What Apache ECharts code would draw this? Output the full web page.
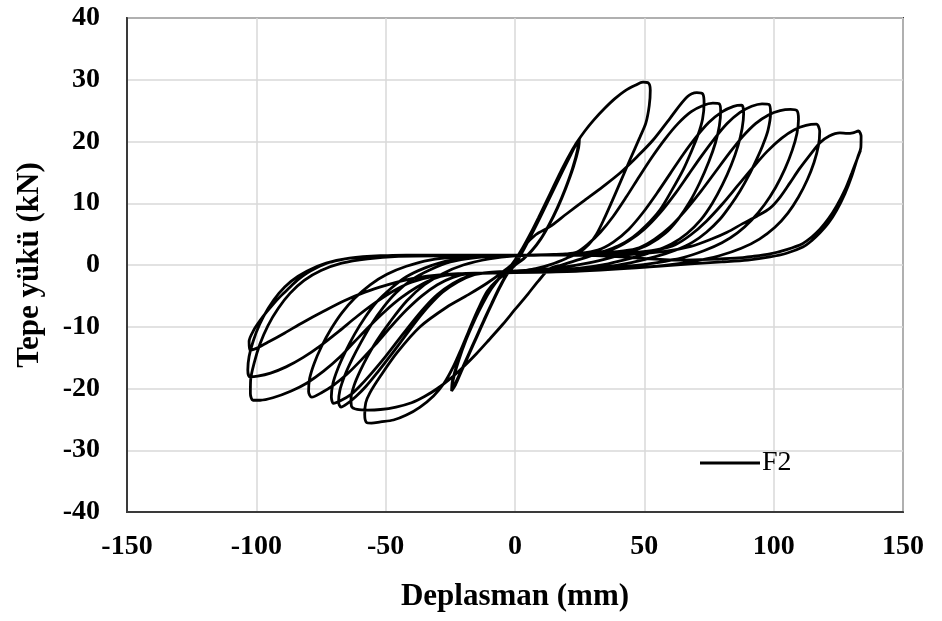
<!DOCTYPE html>
<html>
<head>
<meta charset="utf-8">
<script src="https://cdn.jsdelivr.net/npm/echarts@6/dist/echarts.min.js"></script>
<style>
  html, body { margin: 0; padding: 0; background: #ffffff; }
  #chart { width: 942px; height: 621px; }
</style>
</head>
<body>
<div id="chart"></div>
<script>
// Cyclic load test of specimen F2: top load (kN) vs. displacement (mm).
// Each array is one loading cycle, [displacement, load] pairs in test order.

// Three small elastic cycles at about ±25 mm
const cycleSmall1 = [[0,0],[3,2.2],[6,4.6],[9,7.1],[12,9.7],[15,12.3],[18,14.9],[21,17.4],[23.3,19.3],[24.4,20],[24.2,18.7],[22.2,15.6],[19.3,12.2],[16.2,9.1],[13,6.4],[9.8,4.1],[6.5,2.3],[3.2,1],[0,0],[-3,-1.4],[-6,-3.6],[-9,-6.2],[-12,-8.9],[-15,-11.7],[-18,-14.5],[-21,-17.3],[-23.2,-19.3],[-24.2,-20.1],[-23.9,-18.6],[-21.8,-15.5],[-18.8,-12],[-15.6,-8.9],[-12.4,-6.2],[-9.2,-3.9],[-6,-2.1],[-2.8,-0.8]];
const cycleSmall2 = [[0.5,0.4],[3.5,2.6],[6.5,5],[9.5,7.5],[12.5,10.1],[15.5,12.7],[18.5,15.3],[21.5,17.8],[23.8,19.7],[24.9,20.4],[24.6,19],[22.6,15.9],[19.6,12.4],[16.5,9.3],[13.3,6.6],[10.1,4.3],[6.8,2.5],[3.5,1.1],[0.3,0.1],[-2.7,-1.3],[-5.7,-3.5],[-8.7,-6.1],[-11.7,-8.8],[-14.7,-11.6],[-17.7,-14.4],[-20.7,-17.2],[-23,-19.4],[-24.5,-20.4],[-24.2,-18.8],[-22.1,-15.7],[-19.1,-12.2],[-15.9,-9.1],[-12.7,-6.3],[-9.5,-4],[-6.3,-2.2],[-3.1,-0.9]];
const cycleSmall3 = [[0.2,0.3],[3.2,2.5],[6.2,4.9],[9.2,7.4],[12.2,10],[15.2,12.6],[18.2,15.2],[21.2,17.7],[23.6,19.7],[24.8,20.3],[24.4,18.9],[22.4,15.8],[19.4,12.3],[16.3,9.2],[13.1,6.5],[9.9,4.2],[6.6,2.4],[3.3,1],[0.1,0],[-2.9,-1.4],[-5.9,-3.6],[-8.9,-6.2],[-11.9,-8.9],[-14.9,-11.7],[-17.9,-14.5],[-20.9,-17.3],[-23.1,-19.4],[-24.4,-20.3],[-24,-18.7],[-21.9,-15.6],[-18.9,-12.1],[-15.7,-9],[-12.5,-6.2],[-9.3,-3.9],[-6.1,-2.1],[-2.9,-0.8]];

// Peak load cycle: +52 mm / -57 mm
const cycle4 = [[0,0.8],[3,2.8],[6,5.1],[9,7.6],[12,10.2],[15,12.8],[18,15.4],[21,17.8],[24,19.9],[27,21.7],[30.5,23.5],[34.5,25.3],[38.5,26.9],[42.5,28.2],[46.5,29.1],[49.5,29.6],[51.5,29.5],[52.3,28.3],[51.9,25.8],[50.6,23],[48.3,20.7],[44.4,17],[40.6,13.3],[37.5,10.3],[34.5,7.5],[31.5,5],[28.5,3.3],[25,2.1],[20,1.1],[14,0.1],[8,-0.6],[2,-1],[-3,-1.4],[-7,-2.5],[-10.8,-4.3],[-14.5,-7.4],[-18,-10.8],[-21,-13.8],[-24,-16.6],[-27.5,-19.2],[-31.5,-21.2],[-36.7,-23],[-42,-24.3],[-47,-25.1],[-52,-25.4],[-55.5,-25.6],[-57.4,-25.5],[-58.1,-24.2],[-57.7,-22.3],[-56.1,-20.7],[-52.2,-18.1],[-45.6,-14.2],[-36.7,-10],[-26.3,-6.8],[-18,-4.8],[-11,-3],[-5,-1.2],[0,0.6],[3.1,2.8]];

// +73 mm / -63 mm
const cycle5 = [[8,4.9],[13.5,6.2],[20,8.3],[27,10.5],[34,12.7],[40.6,14.9],[47.1,17.5],[53.3,20.2],[60,23.8],[66.5,27.2],[70.3,27.9],[72.6,27.7],[73.1,26.2],[72.5,23.6],[70.7,21],[68,18.2],[65,15.4],[60.5,12],[56,8.9],[50.5,6.3],[45.6,4.5],[40,3.1],[33,2],[25,0.9],[18,0],[13.5,-0.6],[9,-2.6],[5,-4.7],[0,-7.2],[-4.7,-9.6],[-10,-12.1],[-15,-14.4],[-20,-16.5],[-25,-18.4],[-30,-20],[-35,-21.3],[-40,-22.3],[-46,-23],[-52,-23.4],[-57,-23.5],[-61,-23.4],[-63.2,-22.9],[-63.4,-21.6],[-62.2,-19.5],[-59.9,-17.2],[-57,-14.8],[-53.5,-12.3],[-48.3,-9.2],[-41.8,-5.8],[-35,-3.2],[-28,-1.4],[-20,0],[-10,1],[0,1.5],[10,1.6],[20,1.8]];

// +79 mm / -68 mm
const cycle6 = [[24,2.1],[28,3.3],[33,5.3],[38,7.9],[43,11],[48,14.3],[53,17.5],[58,20.4],[63,22.9],[68,24.8],[72.5,25.8],[76.5,26.2],[78.9,26.1],[79.5,25],[79,22.5],[77.5,19.8],[75,16.8],[71.5,13.4],[67.5,10.2],[63,7.4],[58,5.1],[52,3.4],[45,2.2],[37,1.2],[28,0.3],[18,-0.4],[8,-0.8],[-2,-1],[-10,-1.2],[-16,-1.6],[-22,-2.7],[-28,-4.4],[-33,-6.5],[-38,-9],[-43,-11.8],[-48,-14.6],[-53,-17.3],[-57.5,-19.6],[-61.5,-21.3],[-65,-22.5],[-67.3,-23],[-68.2,-22.2],[-67.7,-20.3],[-65.8,-17.9],[-63,-15.3],[-59.5,-12.5],[-55.5,-9.6],[-51,-6.9],[-46,-4.5],[-40,-2.4],[-33,-0.8],[-25,0.5],[-15,1.2],[-5,1.5],[5,1.6],[15,1.7],[25,1.9]];

// +88 mm / -71 mm
const cycle7 = [[32,2.4],[38,3.7],[44,5.8],[49.5,8.5],[55,11.7],[60,14.8],[65,17.9],[70,20.7],[75,23.1],[80,24.8],[84.5,25.7],[87.6,25.9],[88.4,24.6],[87.8,22.1],[86.2,19.3],[83.6,16.2],[80.2,13],[76.3,10],[71.8,7.3],[66.5,5.1],[60.5,3.4],[53,2.1],[45,1.1],[36,0.2],[25,-0.5],[12,-0.9],[0,-1.1],[-12,-1.3],[-18,-1.8],[-24,-3],[-30,-4.8],[-35,-6.9],[-40,-9.4],[-45,-12.1],[-50,-14.8],[-55,-17.3],[-59.5,-19.4],[-63.5,-21],[-67.5,-22],[-70.2,-22.4],[-71,-21.3],[-70.4,-19.2],[-68.5,-16.8],[-65.5,-14],[-62,-11.2],[-58,-8.5],[-53.5,-6],[-48,-3.8],[-42,-1.9],[-35,-0.5],[-27,0.6],[-17,1.2],[-5,1.5],[8,1.6],[20,1.8],[32,2.1]];

// +98 mm / -79 mm
const cycle8 = [[38,2.6],[44,3.9],[50,5.8],[56,8.4],[62,11.6],[67,14.6],[72,17.6],[77,20.4],[82,22.9],[87,24.7],[91.5,25.7],[95.5,26.1],[98.2,26],[98.8,24.6],[97.8,21.8],[95.8,19.4],[93.5,17.2],[90.5,14.6],[87,12],[83.2,9.6],[79.2,7.4],[74,5.3],[68.7,3.7],[62,2.4],[54,1.3],[45,0.4],[35,-0.3],[22,-0.8],[8,-1.1],[-6,-1.2],[-18,-1.4],[-24,-2],[-30,-3.2],[-36,-5],[-42,-7.3],[-48,-10],[-54,-12.9],[-59.5,-15.4],[-65,-17.7],[-70,-19.4],[-74.5,-20.6],[-78.6,-21.4],[-79.8,-20.5],[-79.4,-18.4],[-77.6,-15.9],[-74.8,-13.2],[-71.3,-10.5],[-67,-7.8],[-62,-5.4],[-56,-3.2],[-49.5,-1.5],[-42,-0.2],[-33,0.8],[-22,1.3],[-10,1.5],[3,1.6],[16,1.7],[30,1.9],[42,2.3]];

// +109 mm / -101 mm
const cycle9 = [[48,2.8],[54,4.2],[60,6.2],[66,8.9],[72,12],[77.5,15.1],[83,18.2],[88,20.8],[93,22.9],[98,24.3],[102.5,25],[106.5,25.2],[109,25],[109.6,23.6],[109,21.3],[107.2,18.6],[104.4,15.6],[100.8,12.6],[96.5,9.8],[91.5,7.3],[86,5.2],[80,3.6],[73,2.3],[65,1.2],[55,0.4],[44,-0.2],[30,-0.7],[15,-1],[0,-1.2],[-14,-1.3],[-26,-1.6],[-32,-2.3],[-38,-3.6],[-44,-5.3],[-50,-7.4],[-56,-9.8],[-62,-12.4],[-67.7,-14.9],[-74,-17.2],[-80.4,-19.1],[-86.5,-20.4],[-93.6,-21.5],[-98.5,-21.9],[-101.3,-21.9],[-102.3,-20.8],[-102.2,-18.6],[-100.8,-15.8],[-98.6,-12.8],[-95.5,-9.8],[-91.5,-7],[-87,-4.6],[-81.5,-2.5],[-75,-0.9],[-67,0.3],[-57,1],[-45,1.4],[-30,1.5],[-15,1.5],[0,1.6],[15,1.6],[30,1.7],[45,2],[55,2.5]];

// +117 mm / -103 mm
const cycle10 = [[62,3.3],[68,4.9],[74,7.1],[80,9.8],[86,12.8],[92,15.8],[97.5,18.4],[103,20.5],[108,21.9],[112.5,22.6],[116.5,22.8],[117.8,21.6],[117.3,19.3],[115.6,16.6],[113,13.8],[109.6,11],[105.5,8.4],[100.5,6.1],[94.5,4.2],[87.5,2.7],[79,1.5],[69,0.6],[57,-0.1],[42,-0.6],[25,-1],[8,-1.2],[-8,-1.3],[-22,-1.5],[-32,-1.9],[-40,-2.8],[-47,-4.2],[-54,-6.1],[-61,-8.3],[-68,-10.7],[-75,-13],[-82,-15],[-88.5,-16.5],[-94.5,-17.5],[-99.5,-18],[-102.5,-18.1],[-103.3,-17],[-102.8,-14.8],[-101.2,-12.3],[-98.7,-9.6],[-95.4,-7],[-91.3,-4.6],[-86.5,-2.6],[-80.5,-1],[-73,0.3],[-64,1.1],[-52,1.5],[-38,1.6],[-22,1.6],[-5,1.6],[12,1.6],[28,1.6],[44,1.7],[58,2.2],[68,3]];

// +133 mm / -103 mm
const cycle11 = [[76,4.2],[82,5.3],[88,6.7],[93.5,7.9],[98.6,9.2],[102.5,11],[106.3,13.3],[110,15.6],[114,17.8],[117.9,19.8],[121.5,20.9],[125.6,21.4],[128.5,21.3],[130.6,21.4],[132.8,21.7],[133.8,20.8],[133.7,19],[132.6,17.6],[130.2,14.4],[127.6,11.6],[124.4,8.9],[121.2,6.8],[117.9,5.2],[114.6,3.9],[111.3,2.9],[105,1.9],[98.6,1.3],[90,0.8],[80,0.5],[68,0.2],[55,-0.2],[40,-0.6],[24,-0.9],[8,-1.1],[-8,-1.3],[-22,-1.4],[-34,-1.8],[-42,-2.4],[-50,-3.3],[-58,-4.4],[-66,-5.8],[-74,-7.5],[-82,-9.3],[-89,-11],[-95,-12.4],[-99.5,-13.4],[-102.5,-13.8],[-102.8,-12.4],[-100.8,-10.4],[-98.6,-9],[-96,-7.6],[-93.6,-6.4],[-90.5,-5],[-87,-3.6],[-84,-2.4],[-80.4,-1.3],[-76.5,-0.4],[-72.7,0.3],[-68,0.8],[-63.8,1.1],[-55,1.4],[-42,1.6],[-26,1.6],[-10,1.6],[6,1.6],[22,1.6],[38,1.4],[52,1],[65,0.8]];

// Final push to +133 mm
const cycle12 = [[75,0.9],[85,1.1],[92,1.4],[98.6,1.8],[105,2.5],[111.3,3.5],[114.6,4.5],[117.9,5.8],[121.2,7.5],[124.4,9.6],[127.6,12.2],[130.2,14.9],[132.4,17.3],[133.6,18.6]];

const xTicks = { min: -150, max: 150, interval: 50 };
const yTicks = { min: -40, max: 40, interval: 10 };
const seriesName = 'F2';

const curve = [].concat(cycleSmall1, cycleSmall2, cycleSmall3, cycle4, cycle5,
  cycle6, cycle7, cycle8, cycle9, cycle10, cycle11, cycle12);

const serif = '"Liberation Serif", "Times New Roman", serif';
const chart = echarts.init(document.getElementById('chart'));

chart.setOption({
  animation: false,
  backgroundColor: '#ffffff',
  grid: {
    left: 127, right: 39, top: 18, bottom: 109,
    show: true, borderColor: '#3a3a3a', borderWidth: 2
  },
  legend: {
    data: [{ name: seriesName, icon: 'rect' }],
    left: 700, top: 449, padding: 0,
    itemWidth: 60, itemHeight: 3, itemGap: 0,
    textStyle: { fontFamily: serif, fontSize: 28, color: '#000', padding: [0, 0, 0, -3] }
  },
  xAxis: {
    type: 'value',
    min: xTicks.min, max: xTicks.max, interval: xTicks.interval,
    name: 'Deplasman (mm)',
    nameLocation: 'middle', nameGap: 69,
    nameTextStyle: { fontFamily: serif, fontWeight: 'bold', fontSize: 31, color: '#000' },
    axisLine: { show: true, onZero: false, lineStyle: { color: '#3a3a3a', width: 2 } },
    axisTick: { show: false },
    axisLabel: { margin: 21, fontFamily: serif, fontWeight: 'bold', fontSize: 28, color: '#000' },
    splitLine: { show: true, lineStyle: { color: '#d9d9d9', width: 1.5 } }
  },
  yAxis: {
    type: 'value',
    min: yTicks.min, max: yTicks.max, interval: yTicks.interval,
    name: 'Tepe yükü (kN)',
    nameLocation: 'middle', nameGap: 82,
    nameTextStyle: { fontFamily: serif, fontWeight: 'bold', fontSize: 31, color: '#000' },
    axisLine: { show: true, onZero: false, lineStyle: { color: '#3a3a3a', width: 2 } },
    axisTick: { show: false },
    axisLabel: { margin: 27, fontFamily: serif, fontWeight: 'bold', fontSize: 28, color: '#000' },
    splitLine: { show: true, lineStyle: { color: '#d9d9d9', width: 1.5 } }
  },
  series: [{
    name: seriesName,
    type: 'line',
    data: curve,
    symbol: 'none',
    smooth: 0.3,
    lineStyle: { color: '#000000', width: 2.8 },
    itemStyle: { color: '#000000' }
  }]
});
</script>
</body>
</html>
